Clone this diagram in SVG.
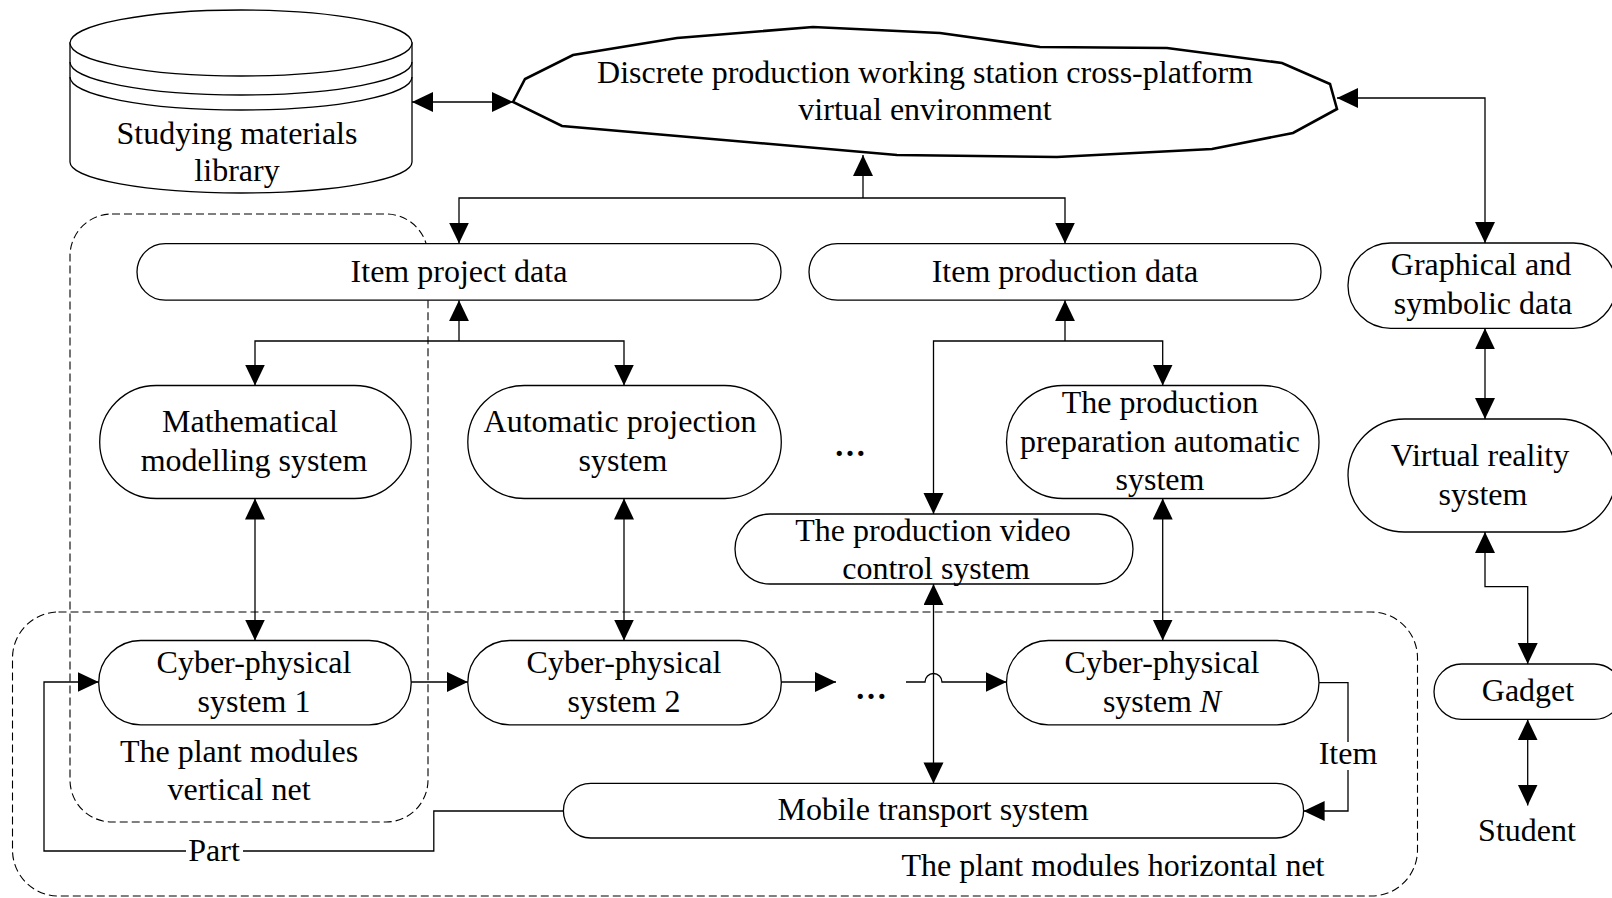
<svg xmlns="http://www.w3.org/2000/svg" width="1612" height="898" viewBox="0 0 1612 898">
<defs>
<style>
text{font-family:"Liberation Serif","Times New Roman",serif;font-size:32px;fill:#000;text-anchor:middle}
.box{fill:#fff;stroke:#000;stroke-width:1.3}
.dash{fill:none;stroke:#000;stroke-width:1.1;stroke-dasharray:8 4}
.c{fill:none;stroke:#000;stroke-width:1.3}
.dots{font-weight:bold}
</style>
<marker id="a" markerUnits="userSpaceOnUse" markerWidth="22" markerHeight="21" refX="21" refY="10" orient="auto-start-reverse" viewBox="0 0 22 21">
<path d="M0,0 L21,10 L0,20 z" fill="#000"/>
</marker>
</defs>
<rect width="1612" height="898" fill="#fff"/>

<g id="vertical-net">
<rect class="dash" x="70" y="214" width="358" height="608" rx="42"/>
<text x="239" y="762">The plant modules</text>
<text x="239" y="800">vertical net</text>
</g>
<g id="horizontal-net">
<rect class="dash" x="12.5" y="612" width="1405" height="284" rx="46"/>
<text x="1113" y="876">The plant modules horizontal net</text>
</g>

<g id="library">
<path class="box" d="M70,43 V162 A171,31 0 0 0 412,162 V43 Z"/>
<ellipse class="box" cx="241" cy="43" rx="171" ry="33"/>
<path class="c" d="M70,62 A171,33 0 0 0 412,62 M70,77 A171,33 0 0 0 412,77"/>
<text x="237" y="143.5">Studying materials</text>
<text x="237" y="180.5">library</text>
</g>

<g id="environment">
<polygon points="513,102 525,79 573,55 677,38 813,27 940,33 1040,47 1167,48 1282,63 1330,84 1337,109 1293,133 1212,149 1057,157 897,155 562,126" fill="#fff" stroke="#000" stroke-width="2.6" stroke-linejoin="miter"/>
<text x="925" y="83">Discrete production working station cross-platform</text>
<text x="925" y="120">virtual environment</text>
</g>

<g id="item-project-data">
<rect class="box" x="137" y="243.6" width="644" height="56.6" rx="28.3"/>
<text x="459" y="281.5">Item project data</text>
</g>
<g id="item-production-data">
<rect class="box" x="809" y="243.6" width="512" height="56.6" rx="28.3"/>
<text x="1065" y="281.5">Item production data</text>
</g>
<g id="graphical-data">
<rect class="box" x="1348" y="243" width="268" height="85.3" rx="42.6"/>
<text x="1481" y="275">Graphical and</text>
<text x="1483" y="314">symbolic data</text>
</g>

<g id="math-modelling">
<rect class="box" x="99.7" y="385.5" width="311.5" height="113" rx="56.5"/>
<text x="250" y="431.5">Mathematical</text>
<text x="254" y="470.5">modelling system</text>
</g>
<g id="auto-projection">
<rect class="box" x="467.8" y="385.5" width="313.5" height="113" rx="56.5"/>
<text x="620" y="431.5">Automatic projection</text>
<text x="623" y="470.5">system</text>
</g>
<g id="dots-1"><text class="dots" x="850" y="456">…</text></g>
<g id="production-preparation">
<rect class="box" x="1006.5" y="385.5" width="312.5" height="113" rx="56.5"/>
<text x="1160" y="413">The production</text>
<text x="1160" y="452">preparation automatic</text>
<text x="1160" y="490">system</text>
</g>
<g id="video-control">
<rect class="box" x="735" y="514" width="398" height="70" rx="35"/>
<text x="933" y="540.5">The production video</text>
<text x="936" y="578.5">control system</text>
</g>
<g id="virtual-reality">
<rect class="box" x="1348" y="419" width="268" height="113" rx="56.5"/>
<text x="1480" y="465.5">Virtual reality</text>
<text x="1483" y="504.5">system</text>
</g>

<g id="cps-1">
<rect class="box" x="98.7" y="640.5" width="312.5" height="84.3" rx="42"/>
<text x="254" y="673">Cyber-physical</text>
<text x="254" y="712">system 1</text>
</g>
<g id="cps-2">
<rect class="box" x="467.8" y="640.5" width="313.5" height="84.3" rx="42"/>
<text x="624" y="673">Cyber-physical</text>
<text x="624" y="712">system 2</text>
</g>
<g id="dots-2"><text class="dots" x="871" y="699">…</text></g>
<g id="cps-n">
<rect class="box" x="1006.5" y="640.5" width="312.5" height="84.3" rx="42"/>
<text x="1162" y="673">Cyber-physical</text>
<text x="1162" y="712">system <tspan font-style="italic">N</tspan></text>
</g>
<g id="gadget">
<rect class="box" x="1434" y="664" width="188" height="55.4" rx="27.7"/>
<text x="1528" y="701">Gadget</text>
</g>
<g id="mobile-transport">
<rect class="box" x="563.4" y="783.4" width="740.2" height="54.6" rx="27.3"/>
<text x="933" y="820">Mobile transport system</text>
</g>
<g id="student"><text x="1527" y="840.5">Student</text></g>

<g id="connectors">
<path class="c" d="M412,102 H513" marker-start="url(#a)" marker-end="url(#a)"/>
<path class="c" d="M1337,98 H1485 V243" marker-start="url(#a)" marker-end="url(#a)"/>
<path class="c" d="M863,198 V155" marker-end="url(#a)"/>
<path class="c" d="M863,198 H459 V243.6" marker-end="url(#a)"/>
<path class="c" d="M863,198 H1065 V243.6" marker-end="url(#a)"/>
<path class="c" d="M459,341 V300.2" marker-end="url(#a)"/>
<path class="c" d="M459,341 H255 V385.5" marker-end="url(#a)"/>
<path class="c" d="M459,341 H624 V385.5" marker-end="url(#a)"/>
<path class="c" d="M1065,341 V300.2" marker-end="url(#a)"/>
<path class="c" d="M1065,341 H933.5 V514" marker-end="url(#a)"/>
<path class="c" d="M1065,341 H1162.7 V385.5" marker-end="url(#a)"/>
<path class="c" d="M255,498.5 V640.5" marker-start="url(#a)" marker-end="url(#a)"/>
<path class="c" d="M624,498.5 V640.5" marker-start="url(#a)" marker-end="url(#a)"/>
<path class="c" d="M1162.7,498.5 V640.5" marker-start="url(#a)" marker-end="url(#a)"/>
<path class="c" d="M933.5,584 V783.4" marker-start="url(#a)" marker-end="url(#a)"/>
<path class="c" d="M411.2,682 H467.8" marker-end="url(#a)"/>
<path class="c" d="M781.3,682 H836" marker-end="url(#a)"/>
<path class="c" d="M906,682 H925 A8.5,8.5 0 0 1 942,682 H1006.5" marker-end="url(#a)"/>
<path class="c" d="M1319,682.6 H1348 V742"/>
<path class="c" d="M1348,770 V811 H1303.6" marker-end="url(#a)"/>
<text x="1348" y="764">Item</text>
<path class="c" d="M563.4,811 H433.8 V851 H243"/>
<path class="c" d="M186,851 H44 V682 H98.7" marker-end="url(#a)"/>
<text x="214" y="861">Part</text>
<path class="c" d="M1485,328.3 V419" marker-start="url(#a)" marker-end="url(#a)"/>
<path class="c" d="M1485,532 V586.6 H1527.7 V664" marker-start="url(#a)" marker-end="url(#a)"/>
<path class="c" d="M1527.7,719.4 V805.5" marker-start="url(#a)" marker-end="url(#a)"/>
</g>
</svg>
